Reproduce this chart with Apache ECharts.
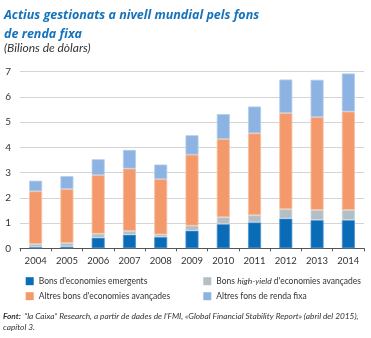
<!DOCTYPE html>
<html><head><meta charset="utf-8">
<script src="https://cdn.jsdelivr.net/npm/echarts@6/dist/echarts.min.js"></script>
<style>html,body{margin:0;padding:0;background:#fff}#c{width:371px;height:338px}</style>
</head><body><div id="c"></div>
<script>
const years = ['2004','2005','2006','2007','2008','2009','2010','2011','2012','2013','2014'];
const emergents = [0.05,0.07,0.42,0.54,0.45,0.70,0.96,1.03,1.18,1.12,1.12];
const highYield = [0.12,0.14,0.16,0.15,0.10,0.20,0.27,0.28,0.37,0.40,0.40];
const altresBons = [2.09,2.14,2.32,2.47,2.19,2.81,3.10,3.25,3.81,3.68,3.90];
const altresFons = [0.42,0.51,0.63,0.74,0.58,0.77,0.99,1.06,1.33,1.48,1.51];
const yTicks = [0,1,2,3,4,5,6,7];
const names = ["Bons d'economies emergents","Bons high-yield d'economies avançades","Altres bons d'economies avançades","Altres fons de renda fixa"];
const colors = ['#0a6bb7','#b3bfc4','#f3996b','#8db3e2'];
const borders = ['#4d93cf','#d0d8db','#f8c0a0','#b5cdee'];
const font = 'Lato';
const chart = echarts.init(document.getElementById('c'));
const mk = (i, d) => ({name: names[i], type:'bar', stack:'s', data:d, barWidth:13,
  itemStyle:{color:colors[i], borderColor:borders[i], borderWidth:0.8}});
const lt = {fontSize:8.5, color:'#333', fontFamily:font};
const leg = (name, left, top, extra) => Object.assign({orient:'horizontal', left:left, top:top, padding:0,
  itemWidth:8, itemHeight:8, icon:'rect', data:[name], textStyle:Object.assign({}, lt), itemStyle:{borderWidth:0}}, extra||{});
chart.setOption({
  animation:false,
  textStyle:{fontFamily:font},
  title:[
    {text:"Actius gestionats a nivell mundial pels fons\nde renda fixa", left:4, top:5.5, padding:0,
     textStyle:{fontFamily:'Open Sans', fontStyle:'italic', fontWeight:'bold', fontSize:12.5, color:'#1673bb', lineHeight:19}},
    {text:"(Bilions de dòlars)", left:4, top:42, padding:0,
     textStyle:{fontFamily:font, fontStyle:'italic', fontWeight:'normal', fontSize:12, color:'#333'}}
  ],
  grid:{left:20, right:7, top:71.7, bottom:89.7, containLabel:false},
  xAxis:{type:'category', data:years,
    axisLine:{lineStyle:{color:'#555', width:1}},
    axisTick:{show:true, length:3, lineStyle:{color:'#555'}},
    axisLabel:{color:'#333', fontSize:9.5, margin:8, interval:0, fontFamily:font}},
  yAxis:{type:'value', min:0, max:7, interval:1,
    axisLine:{show:false}, axisTick:{show:false},
    axisLabel:{color:'#333', fontSize:10, margin:9, fontFamily:font, formatter:v=>yTicks.includes(v)?String(v):''},
    splitLine:{lineStyle:{color:'#d4d4d4', width:1}}},
  legend:[
    leg(names[0], 25.7, 276.7),
    leg(names[2], 25.7, 291.7),
    leg(names[1], 203.3, 276.7, {
      formatter: () => "{a|Bons }{i|high-yield}{a| d'economies avançades}",
      textStyle:Object.assign({}, lt, {rich:{a:Object.assign({}, lt), i:Object.assign({fontStyle:'italic'}, lt)}})}),
    leg(names[3], 203.3, 291.7)
  ],
  graphic:[
    {type:'text', left:3, top:310.5, style:{
      text:"{b|Font:} {n|“la Caixa” Research, a partir de dades de l’FMI, «Global Financial Stability Report» (abril del 2015),}\n{n|capítol 3.}",
      rich:{b:{fontFamily:font, fontStyle:'italic', fontWeight:'bold', fontSize:8.3, fill:'#333', lineHeight:10.5},
            n:{fontFamily:font, fontStyle:'italic', fontSize:8.3, fill:'#333', lineHeight:10.5}}}}
  ],
  series:[mk(0,emergents), mk(1,highYield), mk(2,altresBons), mk(3,altresFons)]
});
</script></body></html>
